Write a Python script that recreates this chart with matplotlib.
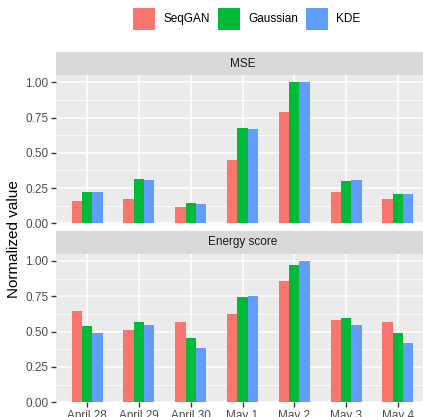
import numpy as np
import matplotlib
matplotlib.use("Agg")
import matplotlib.pyplot as plt
from matplotlib.patches import Rectangle

plt.rcParams["font.family"] = ["Liberation Sans", "DejaVu Sans"]

dates = ["April 28", "April 29", "April 30", "May 1", "May 2", "May 3", "May 4"]
methods = ["SeqGAN", "Gaussian", "KDE"]
colors = ["#F8766D", "#00BA38", "#619CFF"]

mse_seqgan = [0.158, 0.172, 0.116, 0.449, 0.790, 0.222, 0.172]
mse_gaussian = [0.222, 0.314, 0.144, 0.676, 1.000, 0.300, 0.208]
mse_kde = [0.222, 0.307, 0.137, 0.669, 1.000, 0.307, 0.208]

energy_seqgan = [0.646, 0.512, 0.568, 0.625, 0.858, 0.583, 0.568]
energy_gaussian = [0.540, 0.568, 0.455, 0.745, 0.972, 0.597, 0.490]
energy_kde = [0.490, 0.547, 0.384, 0.752, 1.000, 0.547, 0.420]

panels = [
    ("MSE", [mse_seqgan, mse_gaussian, mse_kde]),
    ("Energy score", [energy_seqgan, energy_gaussian, energy_kde]),
]

W, H = 423, 417
fig = plt.figure(figsize=(W / 100, H / 100), dpi=100)

def px(x0, y0, x1, y1):
    # pixel box (top-left origin) -> figure fraction rect
    return [x0 / W, 1 - y1 / H, (x1 - x0) / W, (y1 - y0) / H]

panel_boxes = [(56, 75.3, 429, 223.3), (56, 253.9, 429, 402.3)]
strip_h = 23

x = np.arange(len(dates))
bw = 0.2
for i, ((title, series), box) in enumerate(zip(panels, panel_boxes)):
    ax = fig.add_axes(px(*box))
    ax.set_facecolor("#EBEBEB")
    for s in ax.spines.values():
        s.set_visible(False)
    ax.set_xlim(-0.6, 6.6)
    ax.set_ylim(0, 1.05)
    ax.set_yticks([0, 0.25, 0.5, 0.75, 1.0])
    ax.set_yticks([0.125, 0.375, 0.625, 0.875], minor=True)
    ax.set_yticklabels(["0.00", "0.25", "0.50", "0.75", "1.00"])
    ax.set_xticks(x)
    ax.grid(True, which="major", color="white", linewidth=1.1)
    ax.grid(True, which="minor", axis="y", color="white", linewidth=0.55)
    ax.set_axisbelow(True)
    ax.tick_params(axis="y", which="major", length=3.5, width=1, color="#333333",
                   labelsize=8.5, labelcolor="#4D4D4D", pad=2)
    ax.tick_params(which="minor", length=0)
    for j, (vals, c) in enumerate(zip(series, colors)):
        ax.bar(x + (j - 1) * bw, vals, width=bw, color=c, linewidth=0, zorder=2)
    if i == 1:
        ax.set_xticklabels(dates)
        ax.tick_params(axis="x", length=3.5, width=1, color="#333333",
                       labelsize=8.5, labelcolor="#4D4D4D", pad=2)
    else:
        ax.tick_params(axis="x", length=0, labelbottom=False)

    sx = fig.add_axes(px(box[0], box[1] - strip_h, box[2], box[1]))
    sx.set_facecolor("#D9D9D9")
    sx.set_xticks([])
    sx.set_yticks([])
    for s in sx.spines.values():
        s.set_visible(False)
    sx.text(0.5, 0.5, title, ha="center", va="center", fontsize=8.5,
            color="#1A1A1A", transform=sx.transAxes)

fig.text(14 / W, 1 - 238.7 / H, "Normalized value", rotation=90,
         ha="center", va="center", fontsize=11, color="black")

# legend
key_left = [133, 218, 306]
for name, c, kx in zip(methods, colors, key_left):
    fig.patches.append(Rectangle((kx / W, 1 - 30 / H), 22 / W, 22 / H,
                                 transform=fig.transFigure, color=c, linewidth=0))
    fig.text((kx + 30) / W, 1 - 19 / H, name, ha="left", va="center",
             fontsize=8.5, color="black")

fig.savefig("out.png", dpi=100)
